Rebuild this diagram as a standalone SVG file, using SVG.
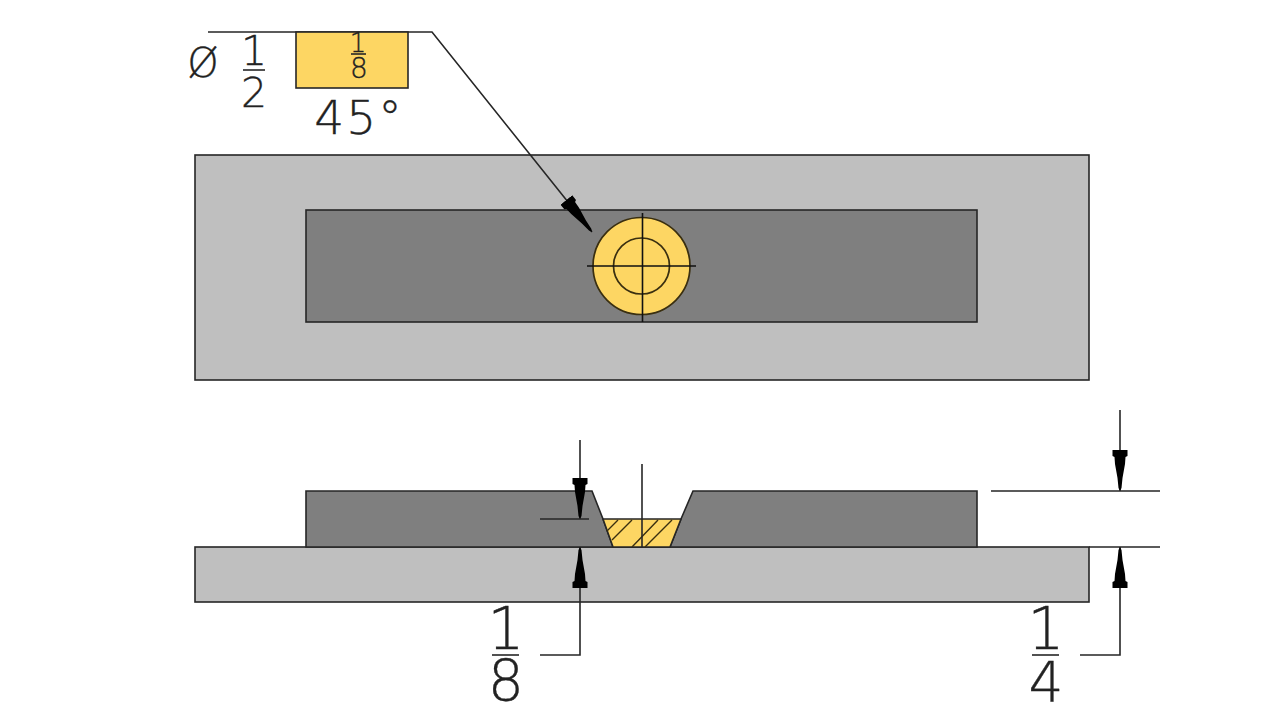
<svg xmlns="http://www.w3.org/2000/svg" width="1280" height="720" viewBox="0 0 1280 720">
<style>
.o{stroke:#262626;stroke-width:1.6;stroke-linejoin:miter}
.light{fill:#bfbfbf}
.dark{fill:#7f7f7f}
.gold{fill:#fdd663}
.thin{stroke:#111;stroke-width:1.6;fill:none}
.dim{stroke:#262626;stroke-width:1.6;fill:none}
.hatch{stroke:#3a2f10;stroke-width:1.4;fill:none}
.ring{fill:none;stroke:#3a2f10;stroke-width:1.7}
text{font-family:"DejaVu Sans","Liberation Sans",sans-serif;font-weight:200;fill:#222;stroke:#222;stroke-width:.35;text-anchor:middle}
</style>
<defs>
<marker id="head" markerUnits="userSpaceOnUse" markerWidth="44" markerHeight="18" refX="41" refY="8" orient="auto">
<polygon points="41,8 38,9.5 28,10.5 14,13 7,13.5 6,15.5 0,15.5 0,0.5 6,0.5 7,2.5 14,3 28,5.5 38,6.5" fill="#000"/>
</marker>
</defs>
<rect width="1280" height="720" fill="#fff"/>
<g id="plan-plate"><rect class="o light" x="195" y="155" width="894" height="225"/></g>
<g id="plan-bar"><rect class="o dark" x="306" y="210" width="671" height="112"/></g>
<g id="plan-weld">
<circle class="ring" style="fill:#fdd663" cx="641.5" cy="266" r="48.5"/>
<circle class="ring" cx="641.5" cy="266" r="28"/>
<path class="thin" d="M587 266H696M642.5 213V322"/>
</g>
<g id="section-plate"><rect class="o light" x="195" y="547" width="894" height="55"/></g>
<g id="section-bar"><path class="o dark" d="M306 547V491H592L603 519L613 547H670L681 519L693 491H977V547Z"/></g>
<g id="section-weld">
<polygon class="o gold" points="603,519 681,519 670,547 613,547"/>
<path class="hatch" d="M618 520L607 531M632 520L612 540M658 520L632 547M672 520L645 547"/>
</g>
<g id="connectors">
<path class="dim" d="M208 32H432L592 232" marker-end="url(#head)"/>
<path class="dim" d="M642 464V547"/>
<path class="dim" d="M580 440V519" marker-end="url(#head)"/>
<path class="dim" d="M540 519H589"/>
<path class="dim" d="M540 655H580V547" marker-end="url(#head)"/>
<path class="dim" d="M1120 410V491" marker-end="url(#head)"/>
<path class="dim" d="M991 491H1160M1089 547H1160"/>
<path class="dim" d="M1080 655H1120V547" marker-end="url(#head)"/>
</g>
<g id="symbol-box"><rect class="o gold" x="296" y="32" width="112" height="56"/></g>
<g id="label-diameter"><text x="203" y="77" font-size="40">Ø</text></g>
<g id="label-half">
<text x="254" y="65" font-size="41">1</text>
<path class="dim" d="M243 70H265"/>
<text x="254" y="107" font-size="41">2</text>
</g>
<g id="label-box-eighth">
<text x="358" y="52" font-size="26">1</text>
<path class="dim" d="M351 54H366"/>
<text x="359" y="78" font-size="28">8</text>
</g>
<g id="label-angle"><text x="359" y="134" font-size="47" letter-spacing="2">45°</text></g>
<g id="label-eighth">
<text x="506" y="649" font-size="58">1</text>
<path class="dim" d="M492 655H519"/>
<text x="506" y="701" font-size="57">8</text>
</g>
<g id="label-quarter">
<text x="1046" y="649" font-size="58">1</text>
<path class="dim" d="M1032 655H1059"/>
<text x="1046" y="701" font-size="55">4</text>
</g>
</svg>
